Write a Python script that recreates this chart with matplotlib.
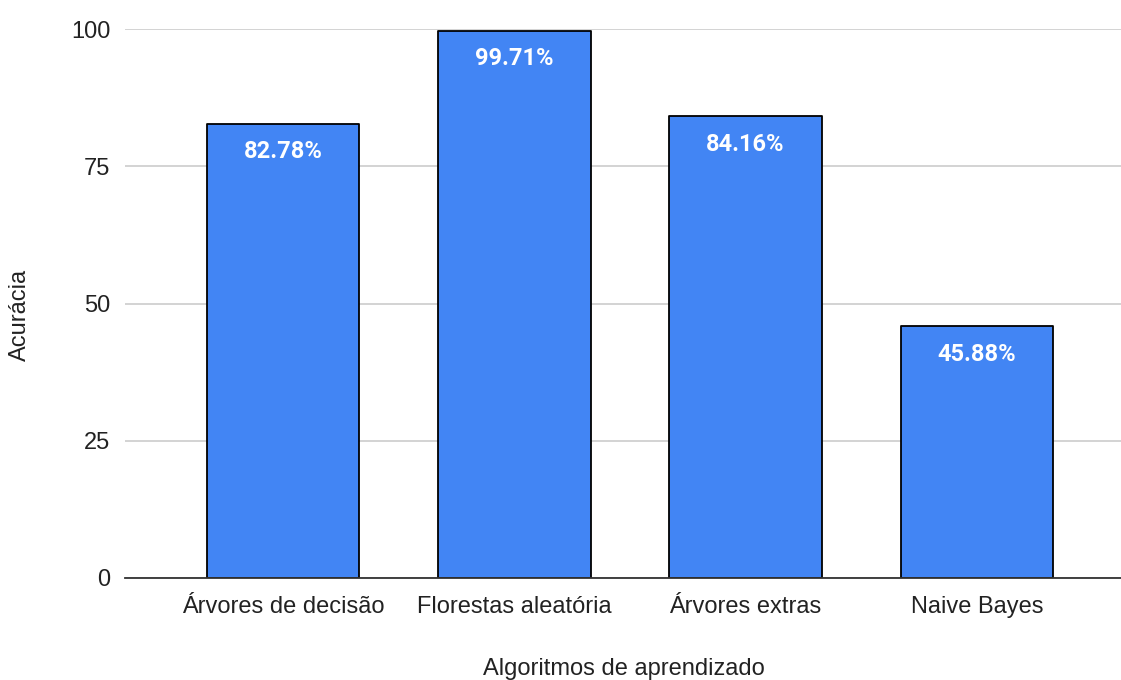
#!/usr/bin/env python3
"""Accuracy of the classifiers compared in the study, as a bar chart."""

import matplotlib.pyplot as plt
import numpy as np

algoritmos = ["Árvores de decisão", "Florestas aleatória", "Árvores extras", "Naive Bayes"]
acuracia = [82.78, 99.71, 84.16, 45.88]
y_ticks = [0, 25, 50, 75, 100]

BAR_COLOR = "#4285F4"

fig = plt.figure(figsize=(11.21, 6.8), dpi=100)
ax = fig.add_axes([125 / 1121, 102 / 680, 996 / 1121, 549 / 680])

x = np.arange(len(algoritmos))
bars = ax.bar(x, acuracia, width=0.66, color=BAR_COLOR, edgecolor="black",
              linewidth=1.3, zorder=3)
for b in bars:
    b.set_joinstyle("round")

for xi, val in zip(x, acuracia):
    ax.annotate(f"{val:.2f}%", (xi, val), xytext=(0, -12), textcoords="offset points",
                ha="center", va="top", color="white", fontsize=17, fontweight="bold",
                family="Roboto", zorder=4)

ax.set_xlim(-0.683, 3.623)
ax.set_ylim(0, 100)
ax.set_yticks(y_ticks)
ax.set_xticks(x)
ax.set_xticklabels(algoritmos)
ax.tick_params(axis="both", length=0, labelsize=17, colors="#222222")
ax.tick_params(axis="x", pad=13)
ax.tick_params(axis="y", pad=10.5)
for lbl in ax.get_xticklabels() + ax.get_yticklabels():
    lbl.set_family("Liberation Sans")

ax.grid(axis="y", color="#cccccc", linewidth=1.2, zorder=0)
ax.set_axisbelow(True)
for side in ("top", "right", "left"):
    ax.spines[side].set_visible(False)
ax.spines["bottom"].set_color("#333333")
ax.spines["bottom"].set_linewidth(1.3)
ax.spines["bottom"].set_zorder(5)

fig.text(624 / 1121, 1 - 669 / 680, "Algoritmos de aprendizado", ha="center", va="center",
         fontsize=17, family="Liberation Sans", color="#222222")
fig.text(20 / 1121, 1 - 315 / 680, "Acurácia", ha="center", va="center", rotation=90,
         fontsize=17, family="Liberation Sans", color="#222222")

fig.savefig("out.png", dpi=100)
